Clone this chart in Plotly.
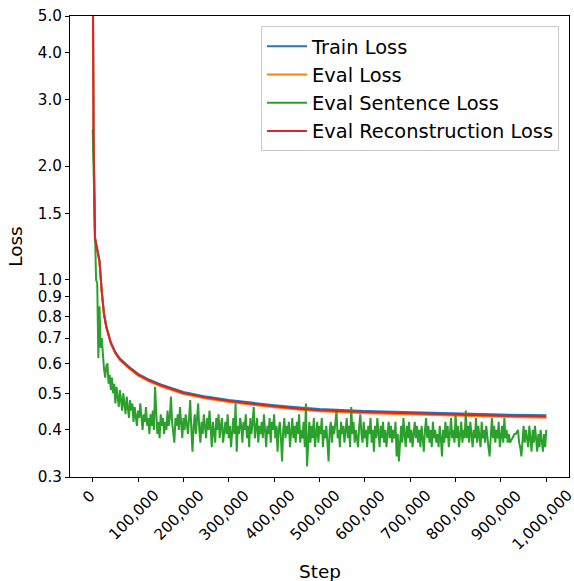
import plotly.graph_objects as go

# ---- data ----
smooth_steps = [0, 2000, 5000, 10000, 15000, 20000, 25000, 30000, 40000, 50000, 60000,
                80000, 100000, 125000, 150000, 200000, 250000, 300000, 350000, 400000,
                450000, 500000, 600000, 700000, 800000, 900000, 1000000]
recon_loss = [8.0, 2.4, 1.29, 1.2, 1.12, 0.93, 0.81, 0.75, 0.68, 0.64, 0.615,
              0.585, 0.56, 0.54, 0.525, 0.501, 0.487, 0.477, 0.469, 0.462,
              0.456, 0.451, 0.446, 0.442, 0.439, 0.436, 0.434]
eval_loss = [8.0, 2.4, 1.285, 1.195, 1.115, 0.926, 0.807, 0.747, 0.677, 0.637, 0.612,
             0.582, 0.557, 0.537, 0.522, 0.498, 0.484, 0.474, 0.466, 0.459,
             0.453, 0.448, 0.443, 0.439, 0.436, 0.433, 0.431]
train_loss = [8.0, 2.42, 1.295, 1.205, 1.125, 0.934, 0.813, 0.753, 0.683, 0.643, 0.618,
              0.588, 0.563, 0.543, 0.528, 0.504, 0.490, 0.480, 0.472, 0.465,
              0.459, 0.454, 0.449, 0.445, 0.442, 0.439, 0.437]

sent_steps = list(range(0, 1000001, 2500))
sent_loss = [
    2.5, 1.7, 1.3, 1.0, 0.98, 0.62, 0.85, 0.66, 0.70,
    0.62, 0.58, 0.55, 0.59, 0.60, 0.53, 0.56, 0.51, 0.55, 0.50, 0.53, 0.47, 0.52, 0.49, 0.46, 0.51, 0.48, 0.45, 0.50, 0.47,
    0.44, 0.49, 0.46, 0.43, 0.48, 0.45, 0.47, 0.42, 0.46, 0.44, 0.41, 0.45, 0.43, 0.47, 0.42, 0.40, 0.44, 0.42, 0.46, 0.41,
    0.43, 0.39, 0.44, 0.41, 0.45, 0.40, 0.52, 0.43, 0.39, 0.42, 0.38, 0.44, 0.41, 0.43, 0.39, 0.42, 0.40, 0.45, 0.41, 0.43,
    0.49, 0.42, 0.39, 0.37, 0.43, 0.41, 0.44, 0.40, 0.46, 0.42, 0.38, 0.43, 0.40, 0.44, 0.41, 0.39, 0.43, 0.48, 0.40, 0.35,
    0.41, 0.44, 0.39, 0.42, 0.47, 0.40, 0.37, 0.42, 0.39, 0.44, 0.41, 0.38, 0.43, 0.40, 0.45, 0.39, 0.36, 0.42, 0.40, 0.37,
    0.43, 0.40, 0.44, 0.38, 0.41, 0.43, 0.37, 0.40, 0.42, 0.39, 0.44, 0.38, 0.41, 0.36, 0.40, 0.43, 0.39, 0.47, 0.35, 0.41,
    0.39, 0.43, 0.41, 0.37, 0.42, 0.40, 0.44, 0.38, 0.41, 0.36, 0.43, 0.39, 0.42, 0.46, 0.38, 0.40, 0.43, 0.37, 0.41, 0.39,
    0.42, 0.38, 0.44, 0.40, 0.36, 0.41, 0.39, 0.43, 0.37, 0.42, 0.40, 0.44, 0.38, 0.41, 0.35, 0.40, 0.42, 0.38, 0.33, 0.40,
    0.43, 0.38, 0.41, 0.39, 0.42, 0.36, 0.40, 0.43, 0.38, 0.41, 0.37, 0.42, 0.39, 0.44, 0.37, 0.40, 0.38, 0.42, 0.36, 0.47,
    0.32, 0.39, 0.42, 0.37, 0.41, 0.38, 0.43, 0.36, 0.40, 0.42, 0.37, 0.41, 0.39, 0.43, 0.36, 0.40, 0.38, 0.41, 0.37, 0.33,
    0.40, 0.42, 0.37, 0.41, 0.39, 0.43, 0.45, 0.38, 0.40, 0.36, 0.42, 0.39, 0.41, 0.37, 0.40, 0.43, 0.38, 0.41, 0.36, 0.46,
    0.39, 0.42, 0.37, 0.40, 0.38, 0.36, 0.41, 0.44, 0.39, 0.37, 0.42, 0.38, 0.40, 0.36, 0.41, 0.39, 0.43, 0.37, 0.40, 0.35,
    0.41, 0.38, 0.43, 0.39, 0.36, 0.41, 0.38, 0.42, 0.37, 0.40, 0.36, 0.39, 0.42, 0.38, 0.41, 0.37, 0.40, 0.38, 0.42, 0.34,
    0.39, 0.33, 0.38, 0.41, 0.37, 0.43, 0.39, 0.36, 0.41, 0.38, 0.42, 0.37, 0.40, 0.36, 0.39, 0.42, 0.38, 0.41, 0.37, 0.40,
    0.36, 0.41, 0.38, 0.35, 0.40, 0.43, 0.38, 0.41, 0.37, 0.40, 0.36, 0.42, 0.38, 0.40, 0.37, 0.39, 0.36, 0.41, 0.38, 0.34,
    0.40, 0.37, 0.42, 0.38, 0.41, 0.36, 0.39, 0.43, 0.38, 0.40, 0.37, 0.44, 0.38, 0.41, 0.36, 0.39, 0.42, 0.37, 0.40, 0.38,
    0.45, 0.38, 0.41, 0.37, 0.42, 0.39, 0.36, 0.40, 0.38, 0.43, 0.37, 0.41, 0.39, 0.36, 0.42, 0.38, 0.40, 0.37, 0.41, 0.39,
    0.36, 0.34, 0.40, 0.43, 0.38, 0.41, 0.37, 0.40, 0.38, 0.42, 0.36, 0.39, 0.41, 0.37, 0.43, 0.38, 0.40, 0.37, 0.39, 0.37,
    0.375, 0.38, 0.385, 0.39, 0.39, 0.395, 0.40, 0.37, 0.36, 0.34, 0.39, 0.41, 0.37, 0.40, 0.38, 0.36, 0.41, 0.38, 0.35, 0.40,
    0.37, 0.41, 0.38, 0.35, 0.39, 0.36, 0.40, 0.37, 0.35, 0.39, 0.36, 0.40,
]

x_ticks = [0, 100000, 200000, 300000, 400000, 500000, 600000, 700000, 800000, 900000, 1000000]
x_tick_labels = ["0", "100,000", "200,000", "300,000", "400,000", "500,000",
                 "600,000", "700,000", "800,000", "900,000", "1,000,000"]
y_ticks = [0.3, 0.4, 0.5, 0.6, 0.7, 0.8, 0.9, 1.0, 1.5, 2.0, 3.0, 4.0, 5.0]
y_tick_labels = ["0.3", "0.4", "0.5", "0.6", "0.7", "0.8", "0.9", "1.0",
                 "1.5", "2.0", "3.0", "4.0", "5.0"]

FONT = "DejaVu Sans"
TICK_SIZE = 15.2
TITLE_SIZE = 18.4
LEGEND_SIZE = 19.4

fig = go.Figure()
fig.add_trace(go.Scatter(x=smooth_steps, y=train_loss, mode="lines", name="Train Loss",
                         line=dict(color="#1f77b4", width=2)))
fig.add_trace(go.Scatter(x=smooth_steps, y=eval_loss, mode="lines", name="Eval Loss",
                         line=dict(color="#ff7f0e", width=2)))
fig.add_trace(go.Scatter(x=sent_steps[:len(sent_loss)], y=sent_loss, mode="lines",
                         name="Eval Sentence Loss", line=dict(color="#2ca02c", width=2)))
fig.add_trace(go.Scatter(x=smooth_steps, y=recon_loss, mode="lines", name="Eval Reconstruction Loss",
                         line=dict(color="#d62728", width=2)))

annotations = []
for v, t in zip(x_ticks, x_tick_labels):
    annotations.append(dict(x=v, xref="x", y=0, yref="paper", yanchor="top", xanchor="center",
                            yshift=-7, xshift=-4, text=t, textangle=-45, showarrow=False,
                            font=dict(family=FONT, size=TICK_SIZE, color="#000000")))
annotations.append(dict(x=0.5, xref="paper", y=0, yref="paper", yanchor="middle", xanchor="center",
                        yshift=-94, text="Step", showarrow=False,
                        font=dict(family=FONT, size=TITLE_SIZE, color="#000000")))

fig.update_layout(
    width=574, height=581,
    margin=dict(l=70, r=5, t=16, b=104),
    plot_bgcolor="white", paper_bgcolor="white",
    font=dict(family=FONT, size=TICK_SIZE, color="#000000"),
    showlegend=True,
    legend=dict(x=0.98, xanchor="right", y=0.978, yanchor="top",
                bgcolor="rgba(255,255,255,0.8)", bordercolor="#cccccc", borderwidth=1,
                font=dict(family=FONT, size=LEGEND_SIZE, color="#000000"), itemwidth=40),
    annotations=annotations,
)
fig.update_xaxes(range=[-50000, 1050000], showgrid=False, zeroline=False,
                 showline=True, linecolor="black", linewidth=1, mirror=True,
                 tickmode="array", tickvals=x_ticks, showticklabels=False,
                 ticks="outside", ticklen=4, tickcolor="black")
fig.update_yaxes(type="log", range=[-0.5228787, 0.69897],
                 showgrid=False, zeroline=False,
                 showline=True, linecolor="black", linewidth=1, mirror=True,
                 tickmode="array", tickvals=y_ticks, ticktext=y_tick_labels,
                 ticks="outside", ticklen=4, tickcolor="black",
                 tickfont=dict(family=FONT, size=TICK_SIZE, color="#000000"),
                 title=dict(text="Loss", font=dict(family=FONT, size=TITLE_SIZE, color="#000000"),
                            standoff=10))

fig.write_html("out.html")
